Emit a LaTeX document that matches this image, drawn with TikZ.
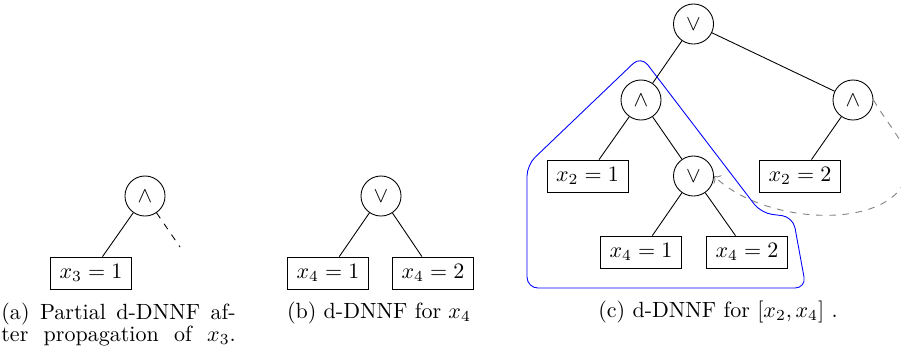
\documentclass[tikz,border=0pt]{standalone}
\usetikzlibrary{arrows.meta}
\begin{document}
\begin{tikzpicture}[x=0.4545pt,y=-0.4545pt,
  gate/.style={circle,draw,minimum size=18.2pt,inner sep=0pt},
  lit/.style={rectangle,draw,minimum width=36.8pt,minimum height=14.5pt,inner sep=0pt},
  captext/.style={inner sep=0pt,anchor=base},
  region/.style={draw=blue,rounded corners=5pt},
  link/.style={draw=gray,dashed,->}]
\useasboundingbox (0,0) rectangle (901,360);

% (a) partial d-DNNF
\node[gate] (aAnd) at (145,196) {$\wedge$};
\node[lit] (aX3) at (91,273) {$x_3 = 1$};
\coordinate (aLoose) at (180,247);
\draw (aAnd) -- (aX3);
\draw[dashed] (aAnd) -- (aLoose);
\node[captext,anchor=base west,text width=106.5pt,align=left] (capA) at (1,319)
  {\hbox to 106.5pt{(a)\hfil\ Partial\hfil\ d-DNNF\hfil\ af-}\\[-1.8pt]
   \hbox to 106.5pt{ter\hfil\ propagation\hfil\ of\hfil\ $x_3$.}};

% (b) d-DNNF for x4
\node[gate] (bOr) at (381,196) {$\vee$};
\node[lit] (bX41) at (328,273) {$x_4 = 1$};
\node[lit] (bX42) at (433,273) {$x_4 = 2$};
\draw (bOr) -- (bX41);
\draw (bOr) -- (bX42);
\node[captext] (capB) at (379,318) {(b) d-DNNF for $x_4$};

% (c) d-DNNF for [x2, x4]
\node[gate] (cRoot) at (693.5,24) {$\vee$};
\node[gate] (lAnd) at (641,100) {$\wedge$};
\node[gate] (rAnd) at (853,100) {$\wedge$};
\node[lit] (cX21) at (587.5,176) {$x_2 = 1$};
\node[gate] (mOr) at (693.5,176) {$\vee$};
\node[lit] (cX22) at (800,176) {$x_2 = 2$};
\node[lit] (cX41) at (641,252) {$x_4 = 1$};
\node[lit] (cX42) at (747,252) {$x_4 = 2$};
\draw (cRoot) -- (lAnd);
\draw (cRoot) -- (rAnd);
\draw (lAnd) -- (cX21);
\draw (lAnd) -- (mOr);
\draw (rAnd) -- (cX22);
\draw (mOr) -- (cX41);
\draw (mOr) -- (cX42);

% shared sub-graph outline
\draw[region] (527,288) -- (527,165) -- (641,56) -- (761,213) -- (793,217)
  -- (806,288) -- cycle;

% reuse link back to the shared sub-graph
\coordinate (cFar) at (908,165);
\draw[link] (rAnd.east) .. controls (890,128) and (908,145) .. (cFar)
  .. controls (908,230) and (770,230) .. (mOr.east);

\node[captext] (capC) at (718,317) {(c) d-DNNF for $[x_2, x_4]$\ .};
\end{tikzpicture}
\end{document}
